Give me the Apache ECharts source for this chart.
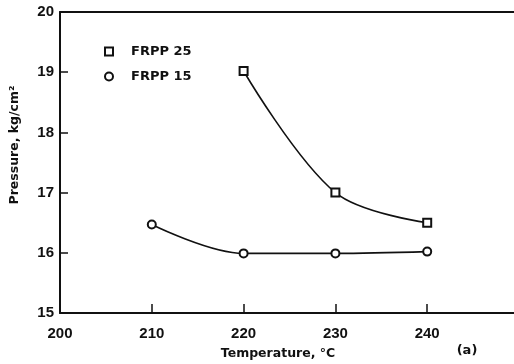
<!DOCTYPE html>
<html>
<head>
<meta charset="utf-8">
<script src="https://cdn.jsdelivr.net/npm/echarts@6/dist/echarts.min.js"></script>
<style>
  html, body { margin: 0; padding: 0; background: #fff; }
  #chart { width: 514px; height: 364px; }
</style>
</head>
<body>
<div id="chart"></div>
<script>
// Melt temperature (°C) vs. injection pressure (kg/cm²)
const frpp25Temps = [220, 230, 240];
const frpp25Pressure = [19.02, 17.0, 16.5];
const frpp15Temps = [210, 220, 230, 240];
const frpp15Pressure = [16.47, 15.99, 15.99, 16.02];
const xTicks = [200, 210, 220, 230, 240, 250];
const yTicks = [15, 16, 17, 18, 19, 20];

const TICK_FONT = '"Liberation Sans", Arial, sans-serif';
const TEXT_FONT = '"DejaVu Sans", sans-serif';
const ink = '#111';

const pairs = (xs, ys) => xs.map((x, i) => [x, ys[i]]);

const chart = echarts.init(document.getElementById('chart'), null, { renderer: 'canvas' });
chart.setOption({
  animation: false,
  backgroundColor: '#fff',
  grid: {
    left: 60, top: 12, right: -5, bottom: 51,
    outerBoundsMode: 'none',
    show: false
  },
  legend: {
    orient: 'vertical',
    left: 99, top: 40,
    itemWidth: 8, itemHeight: 8, itemGap: 12,
    textStyle: { fontFamily: TEXT_FONT, fontWeight: 'bold', fontSize: 13, color: ink, padding: [0, 0, 0, 13] },
    data: [
      { name: 'FRPP 25', icon: 'emptyRect' },
      { name: 'FRPP 15', icon: 'emptyCircle' }
    ]
  },
  xAxis: [
    {
      type: 'value', position: 'bottom',
      min: xTicks[0], max: xTicks[xTicks.length - 1], interval: 10,
      axisLine: { lineStyle: { color: ink, width: 2 } },
      axisTick: { inside: true, length: 9, lineStyle: { color: ink, width: 1.5 } },
      axisLabel: {
        margin: 13, fontFamily: TICK_FONT, fontWeight: 'bold', fontSize: 15, color: ink,
        formatter: v => (xTicks.includes(v) && v < 250 ? String(v) : '')
      },
      splitLine: { show: false }
    },
    {
      // top frame line only
      type: 'value', position: 'top',
      min: xTicks[0], max: xTicks[xTicks.length - 1], interval: 10,
      axisLine: { lineStyle: { color: ink, width: 2 } },
      axisTick: { show: false },
      axisLabel: { show: false },
      splitLine: { show: false }
    }
  ],
  yAxis: {
    type: 'value',
    min: yTicks[0], max: yTicks[yTicks.length - 1], interval: 1,
    axisLine: { show: true, lineStyle: { color: ink, width: 2 } },
    axisTick: { show: true, inside: true, length: 8, lineStyle: { color: ink, width: 1.5 } },
    axisLabel: { margin: 6, fontFamily: TICK_FONT, fontWeight: 'bold', fontSize: 15, color: ink },
    splitLine: { show: false }
  },
  graphic: [
    {
      type: 'text', x: 15, y: 145, rotation: Math.PI / 2,
      style: {
        text: 'Pressure, kg/cm²', fontFamily: TEXT_FONT, fontWeight: 'bold', fontSize: 12.5,
        fill: ink, align: 'center', verticalAlign: 'middle'
      }
    },
    {
      type: 'text', x: 278, y: 354,
      style: {
        text: 'Temperature, °C', fontFamily: TEXT_FONT, fontWeight: 'bold', fontSize: 12.5,
        fill: ink, align: 'center', verticalAlign: 'middle'
      }
    },
    {
      type: 'text', x: 467, y: 351,
      style: {
        text: '(a)', fontFamily: TEXT_FONT, fontWeight: 'bold', fontSize: 13,
        fill: ink, align: 'center', verticalAlign: 'middle'
      }
    }
  ],
  series: [
    {
      name: 'FRPP 25', type: 'line', smooth: 0.35, xAxisIndex: 0,
      data: pairs(frpp25Temps, frpp25Pressure),
      symbol: 'emptyRect', symbolSize: 8,
      lineStyle: { color: ink, width: 1.6 },
      itemStyle: { color: ink, borderColor: ink, borderWidth: 1.6 }
    },
    {
      name: 'FRPP 15', type: 'line', smooth: 0.35, xAxisIndex: 0,
      data: pairs(frpp15Temps, frpp15Pressure),
      symbol: 'emptyCircle', symbolSize: 8,
      lineStyle: { color: ink, width: 1.6 },
      itemStyle: { color: ink, borderColor: ink, borderWidth: 1.6 }
    }
  ]
});
</script>
</body>
</html>
